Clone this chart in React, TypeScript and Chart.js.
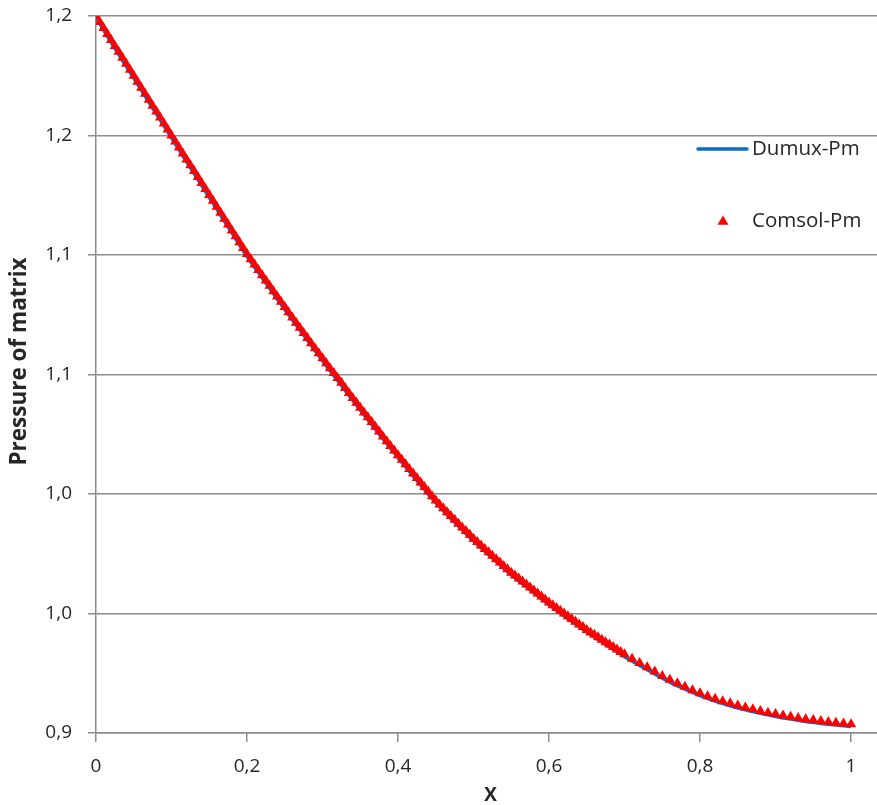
import React, { useEffect, useRef } from 'react';
import { Chart, registerables } from 'chart.js';

Chart.register(...registerables);

// Comsol-Pm (red triangles)
const comsolX = [
  0, 0.005, 0.01, 0.015, 0.02, 0.025, 0.03, 0.035, 0.04, 0.045,
  0.05, 0.055, 0.06, 0.065, 0.07, 0.075, 0.08, 0.085, 0.09, 0.095,
  0.1, 0.105, 0.11, 0.115, 0.12, 0.125, 0.13, 0.135, 0.14, 0.145,
  0.15, 0.155, 0.16, 0.165, 0.17, 0.175, 0.18, 0.185, 0.19, 0.195,
  0.2, 0.205, 0.21, 0.215, 0.22, 0.225, 0.23, 0.235, 0.24, 0.245,
  0.25, 0.255, 0.26, 0.265, 0.27, 0.275, 0.28, 0.285, 0.29, 0.295,
  0.3, 0.305, 0.31, 0.315, 0.32, 0.325, 0.33, 0.335, 0.34, 0.345,
  0.35, 0.355, 0.36, 0.365, 0.37, 0.375, 0.38, 0.385, 0.39, 0.395,
  0.4, 0.405, 0.41, 0.415, 0.42, 0.425, 0.43, 0.435, 0.44, 0.445,
  0.45, 0.455, 0.46, 0.465, 0.47, 0.475, 0.48, 0.485, 0.49, 0.495,
  0.5, 0.505, 0.51, 0.515, 0.52, 0.525, 0.53, 0.535, 0.54, 0.545,
  0.55, 0.555, 0.56, 0.565, 0.57, 0.575, 0.58, 0.585, 0.59, 0.595,
  0.6, 0.605, 0.61, 0.615, 0.62, 0.625, 0.63, 0.635, 0.64, 0.645,
  0.65, 0.655, 0.66, 0.665, 0.67, 0.675, 0.68, 0.685, 0.69, 0.695,
  0.7, 0.71, 0.72, 0.73, 0.74, 0.75, 0.76, 0.77, 0.78, 0.79,
  0.8, 0.81, 0.82, 0.83, 0.84, 0.85, 0.86, 0.87, 0.88, 0.89,
  0.9, 0.91, 0.92, 0.93, 0.94, 0.95, 0.96, 0.97, 0.98, 0.99,
  1.0,
];
const comsolP = [
  1.2000, 1.1975, 1.1950, 1.1925, 1.1900, 1.1875, 1.1850, 1.1825, 1.1800, 1.1775,
  1.1750, 1.1725, 1.1700, 1.1675, 1.1650, 1.1625, 1.1600, 1.1575, 1.1550, 1.1525,
  1.1500, 1.1475, 1.1450, 1.1425, 1.1400, 1.1376, 1.1351, 1.1326, 1.1301, 1.1276,
  1.1251, 1.1227, 1.1202, 1.1177, 1.1152, 1.1128, 1.1103, 1.1078, 1.1053, 1.1029,
  1.1004, 1.0982, 1.0960, 1.0937, 1.0915, 1.0893, 1.0871, 1.0848, 1.0826, 1.0804,
  1.0782, 1.0760, 1.0739, 1.0717, 1.0696, 1.0674, 1.0653, 1.0631, 1.0610, 1.0589,
  1.0568, 1.0547, 1.0526, 1.0506, 1.0485, 1.0465, 1.0444, 1.0423, 1.0402, 1.0382,
  1.0361, 1.0341, 1.0321, 1.0301, 1.0281, 1.0261, 1.0241, 1.0221, 1.0201, 1.0182,
  1.0162, 1.0143, 1.0124, 1.0105, 1.0086, 1.0067, 1.0048, 1.0029, 1.0010, 0.9991,
  0.9973, 0.9956, 0.9940, 0.9924, 0.9908, 0.9892, 0.9876, 0.9860, 0.9845, 0.9829,
  0.9813, 0.9799, 0.9784, 0.9770, 0.9756, 0.9742, 0.9727, 0.9713, 0.9699, 0.9685,
  0.9671, 0.9659, 0.9646, 0.9634, 0.9621, 0.9609, 0.9596, 0.9584, 0.9571, 0.9559,
  0.9546, 0.9535, 0.9523, 0.9512, 0.9500, 0.9489, 0.9477, 0.9466, 0.9454, 0.9443,
  0.9431, 0.9421, 0.9411, 0.9401, 0.9390, 0.9380, 0.9370, 0.9360, 0.9349, 0.9339,
  0.9329, 0.9311, 0.9293, 0.9275, 0.9257, 0.9239, 0.9223, 0.9208, 0.9193, 0.9179,
  0.9166, 0.9154, 0.9143, 0.9133, 0.9124, 0.9115, 0.9107, 0.9099, 0.9092, 0.9085,
  0.9079, 0.9073, 0.9068, 0.9063, 0.9058, 0.9054, 0.9050, 0.9046, 0.9043, 0.9040,
  0.9037,
];

// Dumux-Pm (blue line)
const dumuxX = [
  0, 0.02, 0.04, 0.06, 0.08, 0.1, 0.12, 0.14, 0.16, 0.18,
  0.2, 0.22, 0.24, 0.26, 0.28, 0.3, 0.32, 0.34, 0.36, 0.38,
  0.4, 0.42, 0.44, 0.46, 0.48, 0.5, 0.52, 0.54, 0.56, 0.58,
  0.6, 0.62, 0.64, 0.66, 0.68, 0.7, 0.72, 0.74, 0.76, 0.78,
  0.8, 0.82, 0.84, 0.86, 0.88, 0.9, 0.92, 0.94, 0.96, 0.98,
  1.0,
];
const dumuxP = [
  1.1995, 1.1890, 1.1790, 1.1690, 1.1590, 1.1490, 1.1390, 1.1291, 1.1192, 1.1093,
  1.0994, 1.0905, 1.0816, 1.0729, 1.0643, 1.0558, 1.0475, 1.0392, 1.0311, 1.0231,
  1.0152, 1.0076, 1.0000, 0.9930, 0.9866, 0.9803, 0.9746, 0.9689, 0.9636, 0.9586,
  0.9536, 0.9490, 0.9444, 0.9401, 0.9360, 0.9319, 0.9283, 0.9247, 0.9213, 0.9183,
  0.9156, 0.9133, 0.9114, 0.9097, 0.9082, 0.9069, 0.9058, 0.9048, 0.9040, 0.9033,
  0.9027,
];

const yTickValues = [0.9, 0.95, 1.0, 1.05, 1.1, 1.15, 1.2];
const yTickLabels = ['0,9', '1,0', '1,0', '1,1', '1,1', '1,2', '1,2'];
const xTickValues = [0, 0.2, 0.4, 0.6, 0.8, 1];
const xTickLabels = ['0', '0,2', '0,4', '0,6', '0,8', '1'];

const seriesNames = ['Dumux-Pm', 'Comsol-Pm'];
const xTitle = 'X';
const yTitle = 'Pressure of matrix';

const BLUE = '#0a6ec2';
const RED = '#ff0000';
const GRID = '#8c8c8c';
const TEXT = '#262626';
const FONT = 'Open Sans';

const annotations = {
  id: 'annotations',
  afterDraw(chart: any) {
    const { ctx, chartArea } = chart;
    ctx.save();
    // axis titles
    ctx.fillStyle = TEXT;
    ctx.textAlign = 'center';
    ctx.textBaseline = 'middle';
    ctx.font = `bold 19px "${FONT}"`;
    ctx.fillText(xTitle, (chartArea.left + chartArea.right) / 2 + 4, chartArea.bottom + 63);
    ctx.save();
    ctx.translate(20, (chartArea.top + chartArea.bottom) / 2 - 13);
    ctx.rotate(-Math.PI / 2);
    ctx.font = `bold 22.5px "${FONT}"`;
    ctx.fillText(yTitle, 0, 0);
    ctx.restore();

    // legend
    const lineX0 = chartArea.right - 179;
    const lineX1 = chartArea.right - 130;
    const textX = chartArea.right - 125;
    const y1 = chartArea.top + 133;
    const y2 = chartArea.top + 205;
    ctx.strokeStyle = BLUE;
    ctx.lineWidth = 3.5;
    ctx.lineCap = 'round';
    ctx.beginPath();
    ctx.moveTo(lineX0, y1);
    ctx.lineTo(lineX1, y1);
    ctx.stroke();
    const tx = chartArea.right - 154;
    const r = 5.5;
    ctx.fillStyle = RED;
    ctx.beginPath();
    ctx.moveTo(tx, y2 - r);
    ctx.lineTo(tx + r, y2 + r * 0.7);
    ctx.lineTo(tx - r, y2 + r * 0.7);
    ctx.closePath();
    ctx.fill();
    ctx.fillStyle = TEXT;
    ctx.font = `20.5px "${FONT}"`;
    ctx.textAlign = 'left';
    ctx.fillText(seriesNames[0], textX, y1);
    ctx.fillText(seriesNames[1], textX, y2);
    ctx.restore();
  },
};

export default function App() {
  const canvasRef = useRef<HTMLCanvasElement | null>(null);

  useEffect(() => {
    document.body.style.margin = '0';
    const canvas = canvasRef.current;
    if (!canvas) return;
    const chart = new Chart(canvas, {
      type: 'scatter',
      data: {
        datasets: [
          {
            label: seriesNames[1],
            data: comsolX.map((x, i) => ({ x, y: comsolP[i] })),
            showLine: false,
            pointStyle: 'triangle',
            pointRadius: 6,
            pointBackgroundColor: RED,
            pointBorderColor: RED,
            pointBorderWidth: 0,
            order: 1,
          },
          {
            label: seriesNames[0],
            data: dumuxX.map((x, i) => ({ x, y: dumuxP[i] })),
            showLine: true,
            borderColor: BLUE,
            borderWidth: 3.5,
            pointRadius: 0,
            tension: 0.3,
            order: 2,
          },
        ],
      },
      options: {
        animation: false,
        responsive: true,
        maintainAspectRatio: false,
        layout: { autoPadding: false, padding: { top: 16, right: 0, bottom: 0, left: 0 } },
        plugins: {
          legend: { display: false },
          tooltip: { enabled: false },
        },
        scales: {
          x: {
            type: 'linear',
            min: 0,
            max: 1.0344,
            afterBuildTicks: (axis: any) => {
              axis.ticks = xTickValues.map((v) => ({ value: v }));
            },
            afterFit: (s: any) => {
              s.height = 72;
              s.paddingLeft = 0;
              s.paddingRight = 0;
            },
            ticks: {
              callback: (_v: any, i: number) => xTickLabels[i],
              color: TEXT,
              font: { family: FONT, size: 19 },
              padding: 13,
              maxRotation: 0,
            },
            grid: {
              drawOnChartArea: false,
              drawTicks: true,
              tickLength: 9,
              color: GRID,
              lineWidth: 1.5,
            },
            border: { display: true, color: GRID, width: 1.5 },
            title: { display: false },
          },
          y: {
            type: 'linear',
            min: 0.9,
            max: 1.2,
            afterBuildTicks: (axis: any) => {
              axis.ticks = yTickValues.map((v) => ({ value: v }));
            },
            afterFit: (s: any) => {
              s.width = 96;
              s.paddingTop = 0;
              s.paddingBottom = 0;
            },
            ticks: {
              callback: (_v: any, i: number) => yTickLabels[i],
              color: TEXT,
              font: { family: FONT, size: 19 },
              padding: 16,
            },
            grid: {
              drawOnChartArea: true,
              drawTicks: true,
              tickLength: 8,
              color: GRID,
              lineWidth: 1.5,
            },
            border: { display: true, color: GRID, width: 1.5 },
            title: { display: false },
          },
        },
      },
      plugins: [annotations],
    });
    return () => chart.destroy();
  }, []);

  return (
    <div style={{ width: 877, height: 805, position: 'relative' }}>
      <canvas ref={canvasRef} />
    </div>
  );
}
